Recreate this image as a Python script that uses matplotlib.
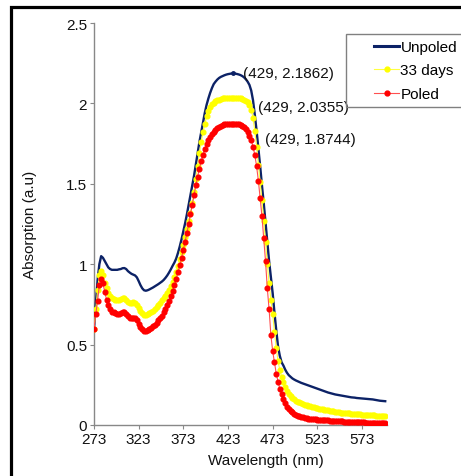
import numpy as np
import matplotlib
matplotlib.use("Agg")
import matplotlib.pyplot as plt
from matplotlib.patches import Rectangle
from matplotlib.lines import Line2D

plt.rcParams["font.family"] = ["Liberation Sans", "DejaVu Sans"]

# wavelength grid (nm), 2 nm steps
wavelength = np.arange(273, 601, 2)

unpoled = [
    0.60, 0.75, 0.90, 1.00, 1.05, 1.04, 1.02, 1.00, 0.98, 0.97,
    0.965, 0.965, 0.965, 0.965, 0.968, 0.97, 0.975, 0.976, 0.97, 0.957,
    0.948, 0.94, 0.935, 0.93, 0.918, 0.895, 0.87, 0.85, 0.838, 0.835,
    0.838, 0.843, 0.849, 0.855, 0.862, 0.869, 0.876, 0.884, 0.892, 0.902,
    0.915, 0.93, 0.948, 0.968, 0.99, 1.01, 1.035, 1.07, 1.11, 1.155,
    1.205, 1.255, 1.31, 1.37, 1.43, 1.49, 1.55, 1.62, 1.69, 1.76,
    1.82, 1.88, 1.94, 1.99, 2.03, 2.065, 2.095, 2.12, 2.135, 2.148,
    2.158, 2.165, 2.17, 2.175, 2.179, 2.182, 2.184, 2.186, 2.1862, 2.185,
    2.183, 2.18, 2.176, 2.17, 2.162, 2.15, 2.135, 2.115, 2.08, 2.02,
    1.93, 1.83, 1.72, 1.61, 1.49, 1.38, 1.26, 1.14, 1.02, 0.92,
    0.82, 0.70, 0.59, 0.49, 0.43, 0.39, 0.37, 0.345, 0.325, 0.31,
    0.30, 0.29, 0.283, 0.277, 0.272, 0.267, 0.262, 0.258, 0.254, 0.25,
    0.246, 0.242, 0.238, 0.234, 0.23, 0.226, 0.222, 0.218, 0.214, 0.21,
    0.206, 0.202, 0.199, 0.196, 0.193, 0.19, 0.188, 0.186, 0.184, 0.182,
    0.18, 0.178, 0.176, 0.174, 0.172, 0.171, 0.17, 0.168, 0.167, 0.166,
    0.165, 0.164, 0.163, 0.162, 0.161, 0.16, 0.159, 0.157, 0.155, 0.153,
    0.151, 0.15, 0.149, 0.148,
]

days33 = [
    0.60, 0.72, 0.84, 0.93, 0.955, 0.93, 0.88, 0.85, 0.82, 0.80,
    0.79, 0.785, 0.78, 0.78, 0.78, 0.785, 0.79, 0.79, 0.78, 0.765,
    0.758, 0.758, 0.762, 0.76, 0.745, 0.728, 0.71, 0.695, 0.685, 0.683,
    0.688, 0.695, 0.703, 0.712, 0.722, 0.733, 0.745, 0.76, 0.775, 0.79,
    0.805, 0.82, 0.84, 0.865, 0.89, 0.92, 0.95, 0.99, 1.03, 1.075,
    1.12, 1.17, 1.22, 1.27, 1.32, 1.38, 1.45, 1.53, 1.61, 1.69,
    1.76, 1.82, 1.87, 1.92, 1.955, 1.98, 1.995, 2.005, 2.013, 2.019,
    2.024, 2.028, 2.031, 2.033, 2.034, 2.035, 2.0354, 2.0354, 2.0355, 2.035,
    2.034, 2.033, 2.031, 2.028, 2.024, 2.018, 2.008, 1.99, 1.96, 1.91,
    1.83, 1.73, 1.62, 1.51, 1.40, 1.27, 1.14, 1.00, 0.88, 0.78,
    0.69, 0.58, 0.48, 0.40, 0.34, 0.30, 0.265, 0.235, 0.21, 0.195,
    0.18, 0.17, 0.16, 0.152, 0.145, 0.14, 0.135, 0.131, 0.127, 0.123,
    0.12, 0.117, 0.114, 0.111, 0.108, 0.105, 0.102, 0.099, 0.097, 0.095,
    0.093, 0.091, 0.089, 0.087, 0.085, 0.083, 0.081, 0.079, 0.077, 0.076,
    0.075, 0.074, 0.073, 0.072, 0.071, 0.07, 0.069, 0.068, 0.067, 0.066,
    0.065, 0.064, 0.063, 0.062, 0.062, 0.061, 0.06, 0.06, 0.059, 0.058,
    0.057, 0.056, 0.055, 0.054,
]

poled = [
    0.60, 0.69, 0.77, 0.87, 0.905, 0.88, 0.83, 0.78, 0.745, 0.72,
    0.705, 0.70, 0.695, 0.69, 0.69, 0.695, 0.70, 0.70, 0.69, 0.675,
    0.665, 0.665, 0.668, 0.665, 0.65, 0.63, 0.61, 0.595, 0.585, 0.583,
    0.588, 0.595, 0.605, 0.615, 0.625, 0.637, 0.65, 0.664, 0.68, 0.70,
    0.72, 0.745, 0.77, 0.80, 0.835, 0.87, 0.91, 0.95, 0.995, 1.04,
    1.09, 1.14, 1.195, 1.25, 1.31, 1.37, 1.43, 1.49, 1.545, 1.595,
    1.64, 1.68, 1.715, 1.745, 1.77, 1.79, 1.808, 1.823, 1.836, 1.846,
    1.854, 1.86, 1.865, 1.869, 1.871, 1.873, 1.874, 1.8743, 1.8744, 1.874,
    1.872, 1.87, 1.866, 1.86, 1.852, 1.84, 1.825, 1.80, 1.77, 1.73,
    1.68, 1.61, 1.52, 1.41, 1.30, 1.16, 1.02, 0.85, 0.72, 0.56,
    0.46, 0.39, 0.32, 0.27, 0.225, 0.19, 0.16, 0.135, 0.115, 0.10,
    0.088, 0.078, 0.07, 0.063, 0.058, 0.054, 0.05, 0.047, 0.044, 0.042,
    0.04, 0.038, 0.037, 0.036, 0.035, 0.034, 0.033, 0.032, 0.031, 0.03,
    0.029, 0.028, 0.027, 0.026, 0.025, 0.025, 0.024, 0.023, 0.022, 0.022,
    0.021, 0.021, 0.02, 0.02, 0.019, 0.019, 0.018, 0.018, 0.017, 0.017,
    0.016, 0.016, 0.015, 0.015, 0.014, 0.014, 0.013, 0.013, 0.012, 0.012,
    0.012, 0.011, 0.011, 0.011,
]

series = [("Unpoled", unpoled), ("33 days", days33), ("Poled", poled)]
xticks = [273, 323, 373, 423, 473, 523, 573]
yticks = [0, 0.5, 1, 1.5, 2, 2.5]
ytick_labels = ["0", "0.5", "1", "1.5", "2", "2.5"]

W, H = 461, 477
fig = plt.figure(figsize=(W / 100, H / 100), dpi=100)
ax = fig.add_axes([94 / W, 51 / H, 293 / W, 402 / H])

navy = "#0c2266"
ax.plot(wavelength, unpoled, color=navy, lw=1.7, zorder=3)
ax.plot(wavelength, days33, color="#ffff40", lw=0.8, marker="o", ms=3.4,
        mfc="#ffff00", mec="#ffff00", zorder=4)
ax.plot(wavelength, poled, color="#ff5050", lw=0.8, marker="o", ms=3.4,
        mfc="#ff0000", mec="#ff0000", zorder=5)

# peak labels
offsets = [(10, 0), (25, -9), (32, -15)]
for (name, vals), off in zip(series, offsets):
    i = int(np.argmax(vals))
    if name == "Unpoled":
        ax.plot(wavelength[i], vals[i], "o", color=navy, ms=2.5, zorder=6)
    ax.annotate(f"({wavelength[i]}, {vals[i]:.4f})", xy=(wavelength[i], vals[i]),
                xytext=off, textcoords="offset pixels", va="center", ha="left",
                fontsize=11, color="#111111", zorder=7)

ax.set_xlim(273, 601)
ax.set_ylim(0, 2.5)
ax.set_xticks(xticks)
ax.set_yticks(yticks)
ax.set_yticklabels(ytick_labels)
for s in ["top", "right"]:
    ax.spines[s].set_visible(False)
for s in ["left", "bottom"]:
    ax.spines[s].set_color("#888888")
    ax.spines[s].set_linewidth(1.0)
ax.tick_params(direction="out", length=3, width=0.8, color="#888888",
               labelsize=11, labelcolor="#111111", pad=2)

ax.set_xlabel("Wavelength (nm)", fontsize=11, color="#111111")
ax.set_ylabel("Absorption (a.u)", fontsize=11, color="#111111")
ax.xaxis.set_label_coords(0.585, -0.087)
ax.yaxis.set_label_coords(-0.218, 0.5)
ax.xaxis.label.set_va("center")
ax.yaxis.label.set_va("center")

# legend with its own box, cut off at the right edge like the original
fig.add_artist(Rectangle((346 / W, 1 - 108 / H), 200 / W, 73 / H,
                         transform=fig.transFigure, fill=False,
                         ec="#808080", lw=1.0, clip_on=False))
handles = [
    Line2D([], [], color=navy, lw=2.2),
    Line2D([], [], color="#ffff40", lw=0.8, marker="o", ms=3.5,
           mfc="#ffff00", mec="#ffff00"),
    Line2D([], [], color="#ff5050", lw=0.8, marker="o", ms=3.5,
           mfc="#ff0000", mec="#ff0000"),
]
fig.legend(handles, [n for n, _ in series], loc="upper left",
           bbox_to_anchor=(374 / W, 1 - 41 / H), frameon=False, fontsize=11,
           handlelength=1.65, handletextpad=0.08, labelspacing=0.62,
           borderpad=0, borderaxespad=0)

# thick black frame at left and top
fig.add_artist(Rectangle((10.5 / W, -0.2), 1.5, 1.2 - 7.5 / H,
                         transform=fig.transFigure, fill=False,
                         ec="black", lw=2.3, clip_on=False))

fig.savefig("out.png", dpi=100)
